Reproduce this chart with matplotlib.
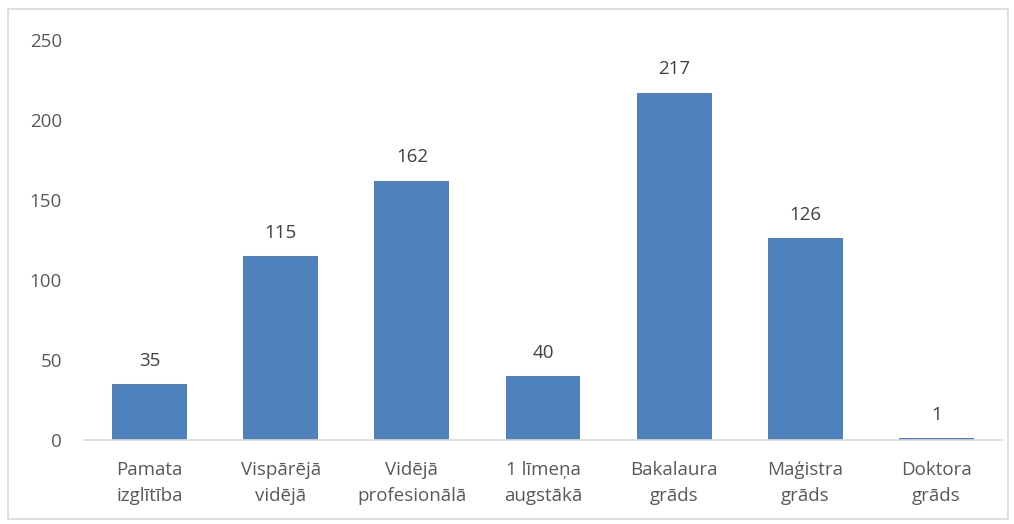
import matplotlib.pyplot as plt
from matplotlib.patches import Rectangle

categories = ['Pamata\nizglītība', 'Vispārējā\nvidējā', 'Vidējā\nprofesionālā',
              '1 līmeņa\naugstākā', 'Bakalaura\ngrāds', 'Maģistra\ngrāds', 'Doktora\ngrāds']
values = [35, 115, 162, 40, 217, 126, 1]

plt.rcParams['font.family'] = ['Open Sans', 'DejaVu Sans']
text_color = '#595959'
bar_color = '#4F81BD'
fs = 13.5

fig = plt.figure(figsize=(10.14, 5.24), dpi=100)
ax = fig.add_axes([84/1014, 84/524, 918/1014, 400/524])

x = range(len(values))
bars = ax.bar(x, values, width=0.57, color=bar_color)
for xi, v in zip(x, values):
    ax.text(xi, v + 9, str(v), ha='center', va='bottom', fontsize=fs, color='#404040')

ax.set_xlim(-0.5, len(values) - 0.5)
ax.set_ylim(0, 250)
ax.set_yticks([0, 50, 100, 150, 200, 250])
ax.set_xticks(list(x))
ax.set_xticklabels(categories, fontsize=fs, color=text_color, linespacing=1.6)
ax.tick_params(axis='y', labelsize=fs, labelcolor=text_color, length=0, pad=16)
ax.tick_params(axis='x', length=0, pad=15)

for side in ['top', 'right', 'left']:
    ax.spines[side].set_visible(False)
ax.spines['bottom'].set_color('#D9D9D9')
ax.spines['bottom'].set_linewidth(1.2)

# outer chart border
fig.patches.append(Rectangle((8/1014, 5/524), 1000/1014, 510/524, transform=fig.transFigure,
                             fill=False, edgecolor='#D9D9D9', linewidth=1.2))

fig.savefig('out.png', dpi=100)
